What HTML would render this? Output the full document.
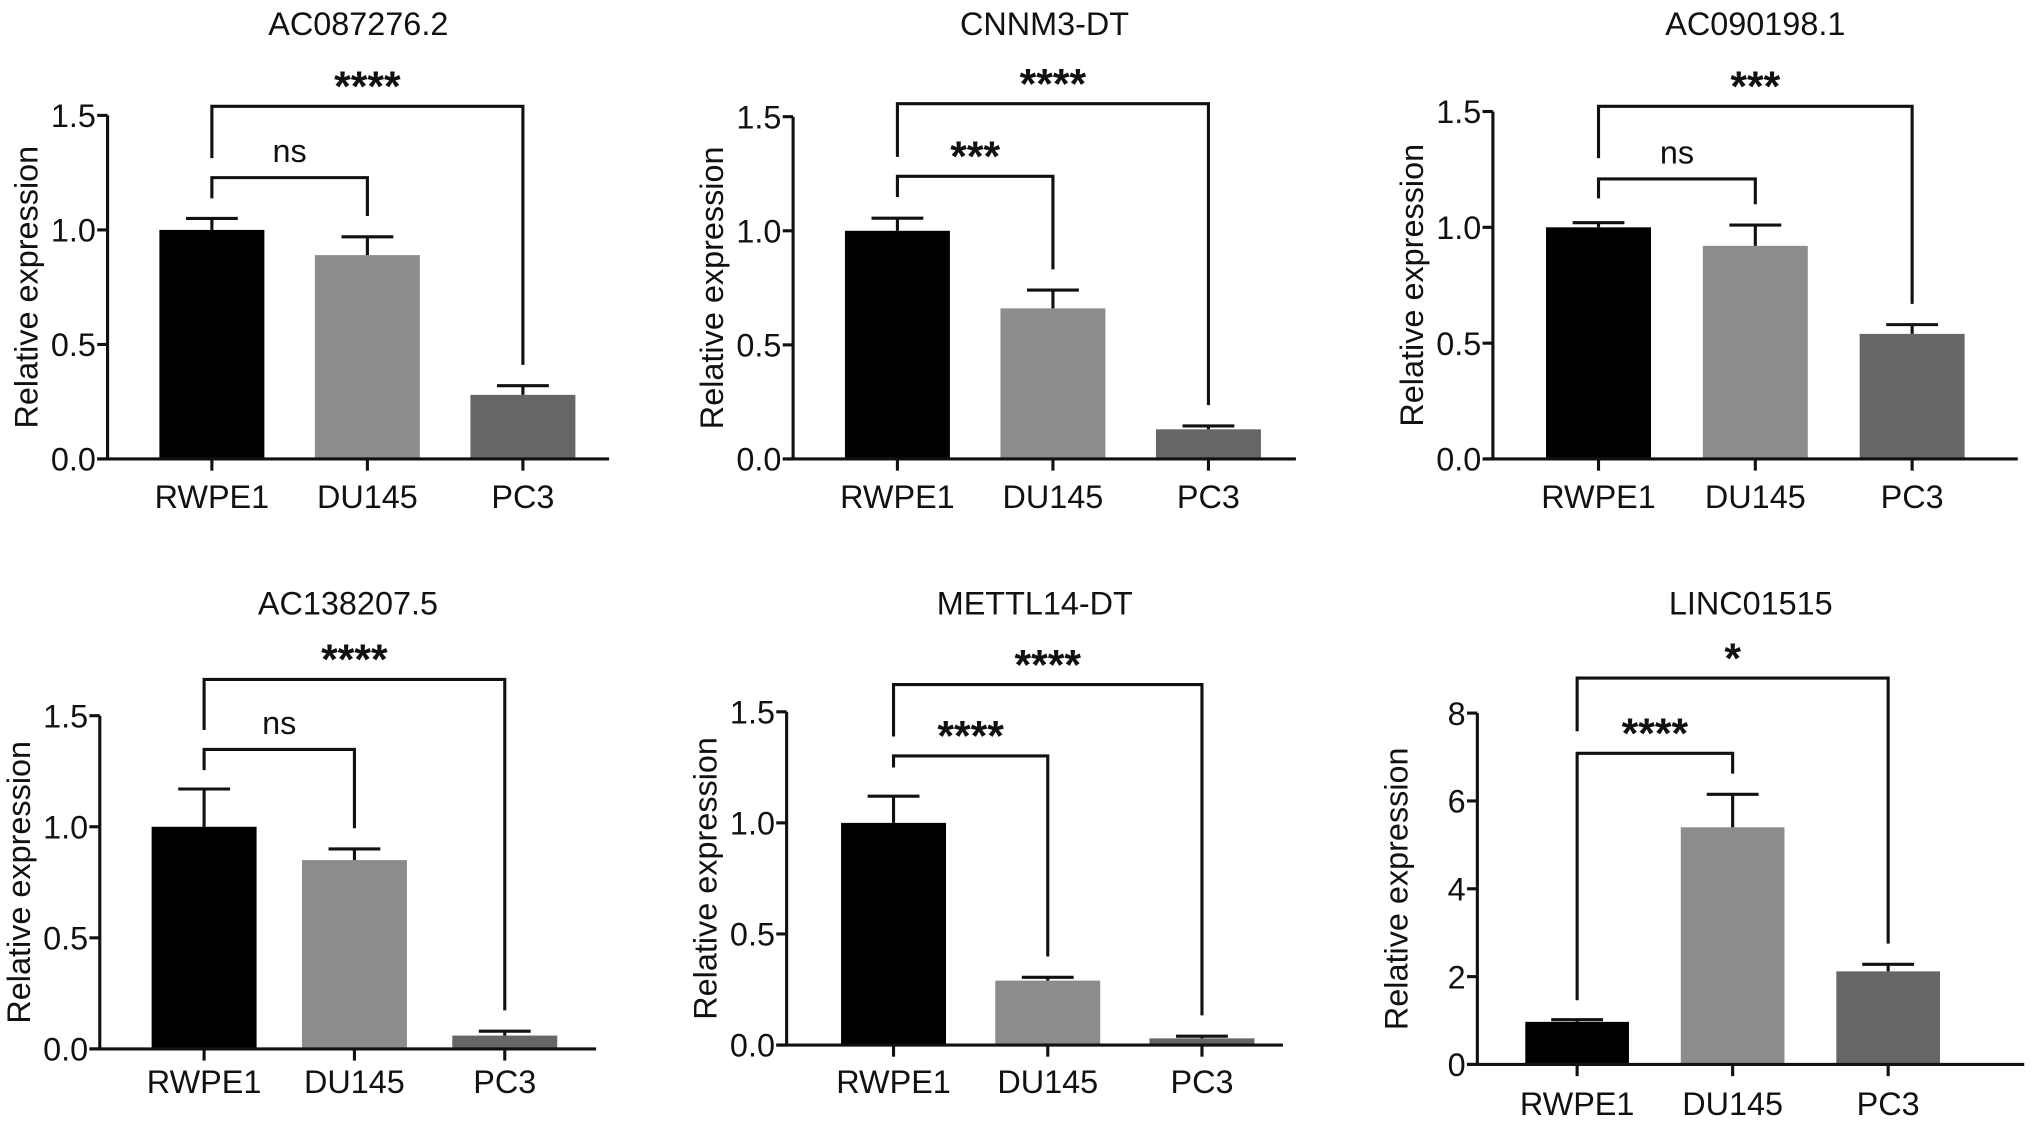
<!DOCTYPE html>
<html><head><meta charset="utf-8"><style>
html,body{margin:0;padding:0;background:#fff}
svg{display:block}
text{font-family:"Liberation Sans",Arial,sans-serif;fill:#111}
</style></head><body>
<svg id="chart" width="2032" height="1128" viewBox="0 0 1568 870" preserveAspectRatio="none" xmlns="http://www.w3.org/2000/svg"></svg>
<script>
const categories = ["RWPE1","DU145","PC3"];
const titles = ["AC087276.2","CNNM3-DT","AC090198.1","AC138207.5","METTL14-DT","LINC01515"];
const means = [[1.0,0.89,0.28],[1.0,0.66,0.13],[1.0,0.92,0.54],[1.0,0.85,0.06],[1.0,0.29,0.03],[0.97,5.4,2.12]];
const errs = [[0.05,0.08,0.04],[0.055,0.08,0.015],[0.02,0.09,0.04],[0.17,0.05,0.02],[0.12,0.015,0.01],[0.05,0.75,0.16]];
const yMax = [1.5,1.5,1.5,1.5,1.5,8];
const yTicks = [["0.0","0.5","1.0","1.5"],["0.0","0.5","1.0","1.5"],["0.0","0.5","1.0","1.5"],["0.0","0.5","1.0","1.5"],["0.0","0.5","1.0","1.5"],["0","2","4","6","8"]];
const sigLong = ["****","****","***","****","****","*"];
const sigShort = ["ns","***","ns","ns","****","****"];
const colors = ["#000","#8c8c8c","#666"];
// layout (pixel positions, not data)
const layout = [
 {ax:83,y0:354,yTop:89,xEnd:470,b0:123,bw:81,gap:120,title:18,lab:383,top:82,low:137,topLeg:122,lowLeg:153},
 {ax:612,y0:354,yTop:90,xEnd:1000,b0:652,bw:81,gap:120,title:18,lab:383,top:80,low:136,topLeg:121,lowLeg:152},
 {ax:1152,y0:354,yTop:86,xEnd:1557,b0:1193,bw:81,gap:121,title:18,lab:383,top:82,low:138,topLeg:122,lowLeg:153},
 {ax:77,y0:809,yTop:552,xEnd:460,b0:117,bw:81,gap:116,title:465,lab:834,top:524,low:578,topLeg:563,lowLeg:594},
 {ax:607,y0:806,yTop:549,xEnd:990,b0:649,bw:81,gap:119,title:465,lab:834,top:528,low:583,topLeg:568,lowLeg:592},
 {ax:1140,y0:821,yTop:550,xEnd:1562,b0:1177,bw:80,gap:120,title:465,lab:851,top:523,low:581,topLeg:564,lowLeg:null}
];
const FS=25;
const svg=document.getElementById('chart');
const NS="http://www.w3.org/2000/svg";
function mk(tag,attrs,parent){const e=document.createElementNS(NS,tag);for(const k in attrs)e.setAttribute(k,attrs[k]);(parent||svg).appendChild(e);return e;}
function line(g,x1,y1,x2,y2){return mk('line',{x1,y1,x2,y2,stroke:'#111','stroke-width':2.4},g);}
layout.forEach((L,p)=>{
  const g=mk('g',{});
  
  
  const ys=v=>L.y0-(v/yMax[p])*(L.y0-L.yTop);
  const xc=i=>L.b0+i*L.gap+L.bw/2;
  const t=mk('text',{x:(L.ax+L.xEnd)/2,y:L.title+9,'font-size':FS,'text-anchor':'middle'},g);t.textContent=titles[p];
  
  
  categories.forEach((c,i)=>{
    const r=mk('rect',{x:L.b0+i*L.gap,y:ys(means[p][i]),width:L.bw,height:L.y0-ys(means[p][i]),fill:colors[i]},g);
    
    
    const ey=ys(means[p][i]+errs[p][i]);
    const e1=line(g,xc(i),ys(means[p][i]),xc(i),ey);
    
    
    line(g,xc(i)-20,ey,xc(i)+20,ey);
    line(g,xc(i),L.y0,xc(i),L.y0+9);
    const lt=mk('text',{x:xc(i),y:L.lab+9,'font-size':FS,'text-anchor':'middle'},g);lt.textContent=c;
    
    
  });
  const ya=line(g,L.ax,L.yTop,L.ax,L.y0);
  
  
  const xa=line(g,L.ax-8,L.y0,L.xEnd,L.y0);
  
  
  const n=yTicks[p].length;
  yTicks[p].forEach((lab,k)=>{
    const v=yMax[p]*k/(n-1);const y=ys(v);
    line(g,L.ax-8,y,L.ax,y);
    const tt=mk('text',{x:L.ax-9,y:y+9,'font-size':FS,'text-anchor':'end'},g);tt.textContent=lab;
    
    
  });
  const yl=mk('text',{x:0,y:0,'font-size':FS,'text-anchor':'middle',transform:`translate(${L.ax-54},${(L.y0+L.yTop)/2}) rotate(-90)`},g);
  yl.textContent='Relative expression';
  
  
  const topR=i=>ys(means[p][i]+errs[p][i]);
  const b1=mk('path',{d:`M${xc(0)},${L.topLeg} V${L.top} H${xc(2)} V${topR(2)-16}`,fill:'none',stroke:'#111','stroke-width':2.4},g);
  
  
  const s1=mk('text',{x:(xc(0)+xc(2))/2,y:L.top-4,'font-size':33,'font-weight':'bold','text-anchor':'middle'},g);s1.textContent=sigLong[p];
  
  
  const lowLeg=L.lowLeg===null?topR(0)-15:L.lowLeg;
  const b2=mk('path',{d:`M${xc(0)},${lowLeg} V${L.low} H${xc(1)} V${topR(1)-16}`,fill:'none',stroke:'#111','stroke-width':2.4},g);
  
  
  const ns=sigShort[p]=='ns';
  const s2=mk('text',{x:(xc(0)+xc(1))/2,y:ns?L.low-12:L.low-4,'font-size':ns?FS:33,'font-weight':ns?'normal':'bold','text-anchor':'middle'},g);s2.textContent=sigShort[p];
  
  
});
</script>
</body></html>
